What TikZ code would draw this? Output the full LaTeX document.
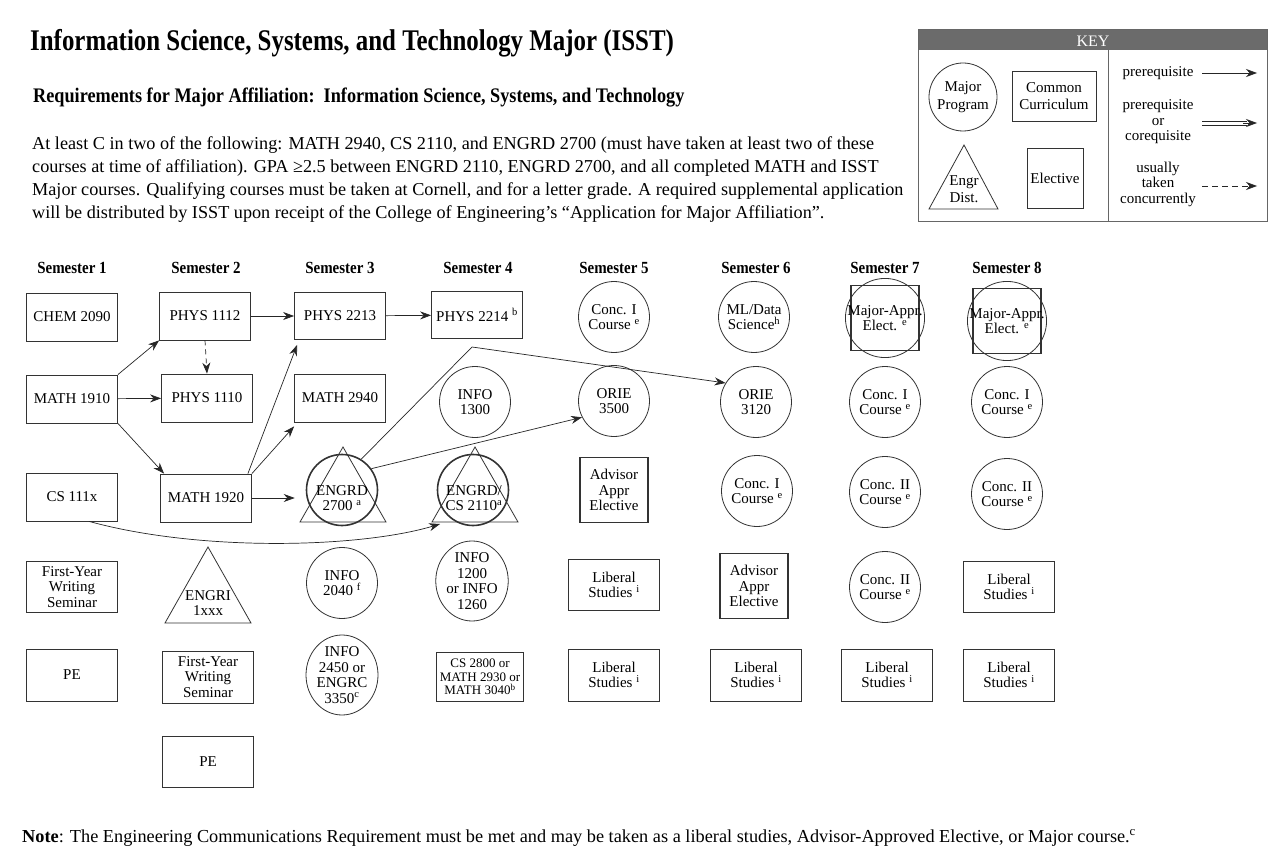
\documentclass[tikz,border=0pt]{standalone}
\usepackage{fontspec}
\setmainfont{Liberation Serif}
\newfontfamily\narrow[FakeStretch=0.88]{Liberation Serif}
\newfontfamily\titlefont[FakeStretch=0.83]{Liberation Serif}
\usetikzlibrary{arrows.meta,calc,shapes.geometric}
\newcommand\sx[1]{\textsuperscript{#1}}
\begin{document}
\begin{tikzpicture}[x=1pt,y=-1pt,
 every node/.style={font=\fontsize{15}{15.5}\selectfont, text=black, align=center, inner sep=0pt},
 ln/.style={draw=black!80, line width=0.8pt},
 bx/.style={ln, rectangle, minimum width=91pt, minimum height=48pt},
 cc/.style={ln, circle, minimum size=71pt},
 thk/.style={line width=1.6pt},
 arr/.style={-{Stealth[length=11pt,width=8pt]}, line width=0.7pt, draw=black!85},
 sem/.style={font=\narrow\bfseries\fontsize{17}{17}\selectfont},
]
\useasboundingbox (0,0) rectangle (1280,861);
\fill[white] (0,0) rectangle (1280,861);

% ---------- header texts ----------
\node[anchor=base west, font=\titlefont\bfseries\fontsize{30}{30}\selectfont] (title) at (30,51) {Information Science, Systems, and Technology Major (ISST)};
\node[anchor=base west, font=\narrow\bfseries\fontsize{20.7}{21}\selectfont] (subt) at (33,103) {Requirements for Major Affiliation:\ \ Information Science, Systems, and Technology};
\node[anchor=north west, align=left, font=\fontsize{18.2}{23}\selectfont] (para) at (32,136) {At least C in two of the following: MATH 2940, CS 2110, and ENGRD 2700 (must have taken at least two of these\\
courses at time of affiliation). GPA ≥2.5 between ENGRD 2110, ENGRD 2700, and all completed MATH and ISST\\
Major courses. Qualifying courses must be taken at Cornell, and for a letter grade. A required supplemental application\\
will be distributed by ISST upon receipt of the College of Engineering's “Application for Major Affiliation”.};
\node[anchor=base west, font=\fontsize{18.3}{20}\selectfont] (note) at (22,842) {\textbf{Note}: The Engineering Communications Requirement must be met and may be taken as a liberal studies, Advisor-Approved Elective, or Major course.\sx{c}};

% ---------- key ----------
\fill[black!58] (918,29) rectangle (1267,50);
\draw[ln, draw=black!60] (918,29) rectangle (1267,221);
\draw[ln, draw=black!60] (1108,50) -- (1108,221);
\node[text=white, font=\fontsize{16}{16}\selectfont] (keyt) at (1093,41) {KEY};
\node[cc, minimum size=68pt, font=\fontsize{15}{18}\selectfont] (kmaj) at (963,97) {Major\\Program};
\node[bx, minimum width=84pt, minimum height=50pt, font=\fontsize{15}{17}\selectfont] (kcom) at (1054,96) {Common\\Curriculum};
\draw[ln] (929,209) -- (964,145) -- (998,209) -- cycle;
\node[font=\fontsize{15}{17}\selectfont] (keng) at (964,189) {Engr\\Dist.};
\node[bx, minimum width=56pt, minimum height=60pt] (kele) at (1055,178) {Elective};
\node (kp1) at (1158,73) {prerequisite};
\node (kp2) at (1158,122) {prerequisite\\or\\corequisite};
\node (kp3) at (1158,184) {usually\\taken\\concurrently};
\coordinate (ka1) at (1202,73); \coordinate (kb1) at (1257,73);
\draw[arr] (ka1) -- (kb1);
\coordinate (ka2) at (1202,123); \coordinate (kb2) at (1257,123); \coordinate (kc2) at (1247,123);
\draw[line width=0.7pt, draw=black!85] ([yshift=2pt]ka2) -- ([yshift=2pt]kc2) ([yshift=-2pt]ka2) -- ([yshift=-2pt]kc2);
\draw[arr] ([xshift=-4pt]kc2) -- (kb2);
\coordinate (ka3) at (1202,186); \coordinate (kb3) at (1257,186);
\draw[arr, dashed, dash pattern=on 6pt off 4pt] (ka3) -- (kb3);

% ---------- semester labels ----------
\node[sem] (s1) at (72,268) {Semester 1};
\node[sem] (s2) at (206,268) {Semester 2};
\node[sem] (s3) at (340,268) {Semester 3};
\node[sem] (s4) at (478,268) {Semester 4};
\node[sem] (s5) at (614,268) {Semester 5};
\node[sem] (s6) at (756,268) {Semester 6};
\node[sem] (s7) at (885,268) {Semester 7};
\node[sem] (s8) at (1007,268) {Semester 8};

% ---------- semester 1 ----------
\node[bx] (chem) at (72,317) {CHEM 2090};
\node[bx] (m1910) at (72,399) {MATH 1910};
\node[bx] (cs) at (72,497) {CS 111x};
\node[bx, minimum height=51pt] (fyws1) at (72,587) {First-Year\\Writing\\Seminar};
\node[bx, minimum height=52pt] (pe1) at (72,675) {PE};

% ---------- semester 2 ----------
\node[bx] (p1112) at (205,316) {PHYS 1112};
\node[bx] (p1110) at (207,398) {PHYS 1110};
\node[bx] (m1920) at (206,498) {MATH 1920};
\draw[ln] (165,623) -- (208,547) -- (251,623) -- cycle;
\node (engri) at (208,603) {ENGRI\\1xxx};
\node[bx, minimum height=52pt] (fyws2) at (208,677) {First-Year\\Writing\\Seminar};
\node[bx, minimum height=51pt] (pe2) at (208,762) {PE};

% ---------- semester 3 ----------
\node[bx, minimum height=47pt] (p2213) at (340,316) {PHYS 2213};
\node[bx] (m2940) at (340,398) {MATH 2940};
\draw[ln] (300,522) -- (343,447) -- (386,522) -- cycle;
\node[cc, thk] (e27) at (342,490) {};
\node (e27t) at (342,498) {ENGRD\\2700 \sx{a}};
\node[cc] (i2040) at (342,583) {INFO\\2040 \sx{f}};
\node[ln, ellipse, minimum width=72pt, minimum height=78pt] (i2450) at (342,675) {INFO\\2450 or\\ENGRC\\3350\sx{c}};

% ---------- semester 4 ----------
\node[bx, minimum height=47pt] (p2214) at (477,315) {PHYS 2214 \sx{b}};
\node[cc] (i1300) at (475,402) {INFO\\1300};
\draw[ln] (432,522) -- (475,447) -- (518,522) -- cycle;
\node[cc, thk] (e21) at (473,490) {};
\node (e21t) at (474,498) {ENGRD/\\CS 2110\sx{a}};
\node[ln, ellipse, minimum width=62pt, minimum height=78pt] (i1200) at (472,581) {INFO\\1200\\or INFO\\1260};
\node[bx, minimum width=87pt, minimum height=49pt, font=\fontsize{13}{13.5}\selectfont] (cs2800) at (480,677) {CS 2800 or\\MATH 2930 or\\MATH 3040\sx{b}};

% ---------- semester 5 ----------
\node[cc] (c5a) at (614,317) {Conc. I\\Course \sx{e}};
\node[cc] (o3500) at (614,401) {ORIE\\3500};
\node[bx, thk, minimum width=68pt, minimum height=65pt] (adv5) at (614,490) {Advisor\\Appr\\Elective};
\node[bx, minimum height=51pt] (ls5a) at (614,585) {Liberal\\Studies \sx{i}};
\node[bx, minimum height=52pt] (ls5b) at (614,675) {Liberal\\Studies \sx{i}};

% ---------- semester 6 ----------
\node[cc] (ml) at (754,317) {ML/Data\\Science\sx{h}};
\node[cc] (o3120) at (756,402) {ORIE\\3120};
\node[cc] (c6a) at (757,491) {Conc. I\\Course \sx{e}};
\node[bx, thk, minimum width=68pt, minimum height=65pt] (adv6) at (754,586) {Advisor\\Appr\\Elective};
\node[bx, minimum height=52pt] (ls6) at (756,675) {Liberal\\Studies \sx{i}};

% ---------- semester 7 ----------
\node[bx, thk, minimum width=68pt, minimum height=65pt] (ma7s) at (885,318) {};
\node[cc] (ma7) at (885,318) {Major-Appr.\\Elect. \sx{e}};
\node[cc] (c7a) at (885,402) {Conc. I\\Course \sx{e}};
\node[cc] (c7b) at (885,492) {Conc. II\\Course \sx{e}};
\node[cc] (c7c) at (885,587) {Conc. II\\Course \sx{e}};
\node[bx, minimum height=52pt] (ls7) at (887,675) {Liberal\\Studies \sx{i}};

% ---------- semester 8 ----------
\node[bx, thk, minimum width=68pt, minimum height=65pt] (ma8s) at (1007,321) {};
\node[cc] (ma8) at (1007,321) {Major-Appr.\\Elect. \sx{e}};
\node[cc] (c8a) at (1007,402) {Conc. I\\Course \sx{e}};
\node[cc] (c8b) at (1007,494) {Conc. II\\Course \sx{e}};
\node[bx, minimum height=51pt] (ls8a) at (1009,587) {Liberal\\Studies \sx{i}};
\node[bx, minimum height=52pt] (ls8b) at (1009,675) {Liberal\\Studies \sx{i}};

% ---------- connectors ----------
\draw[arr] (p1112) -- (p2213);
\draw[arr] (p2213) -- (p2214);
\draw[arr, dashed, dash pattern=on 5pt off 4pt] (p1112.south) -- (p1110.north);
\draw[arr] (m1910.north east) -- (p1112.south west);
\draw[arr] (m1910) -- (p1110);
\draw[arr] (m1910.south east) -- ([xshift=4pt]m1920.north west);
\draw[arr] ([xshift=-4pt]m1920.north east) -- ([xshift=3pt,yshift=-5pt]p2213.south west);
\draw[arr] (m1920.north east) -- ([yshift=-4pt]m2940.south west);
\draw[arr, shorten >=11pt] (m1920.east) -- (m1920.east -| e27.west);
\coordinate (t4) at (440,524);
\draw[arr] (cs.-55) .. controls (200,552) and (360,548) .. (t4);
\draw[arr] (e27.36) -- (o3500.207);
\coordinate (bend) at (472,347);
\draw[arr] (e27.58) -- (bend) -- (o3120.148);
\end{tikzpicture}
\end{document}
